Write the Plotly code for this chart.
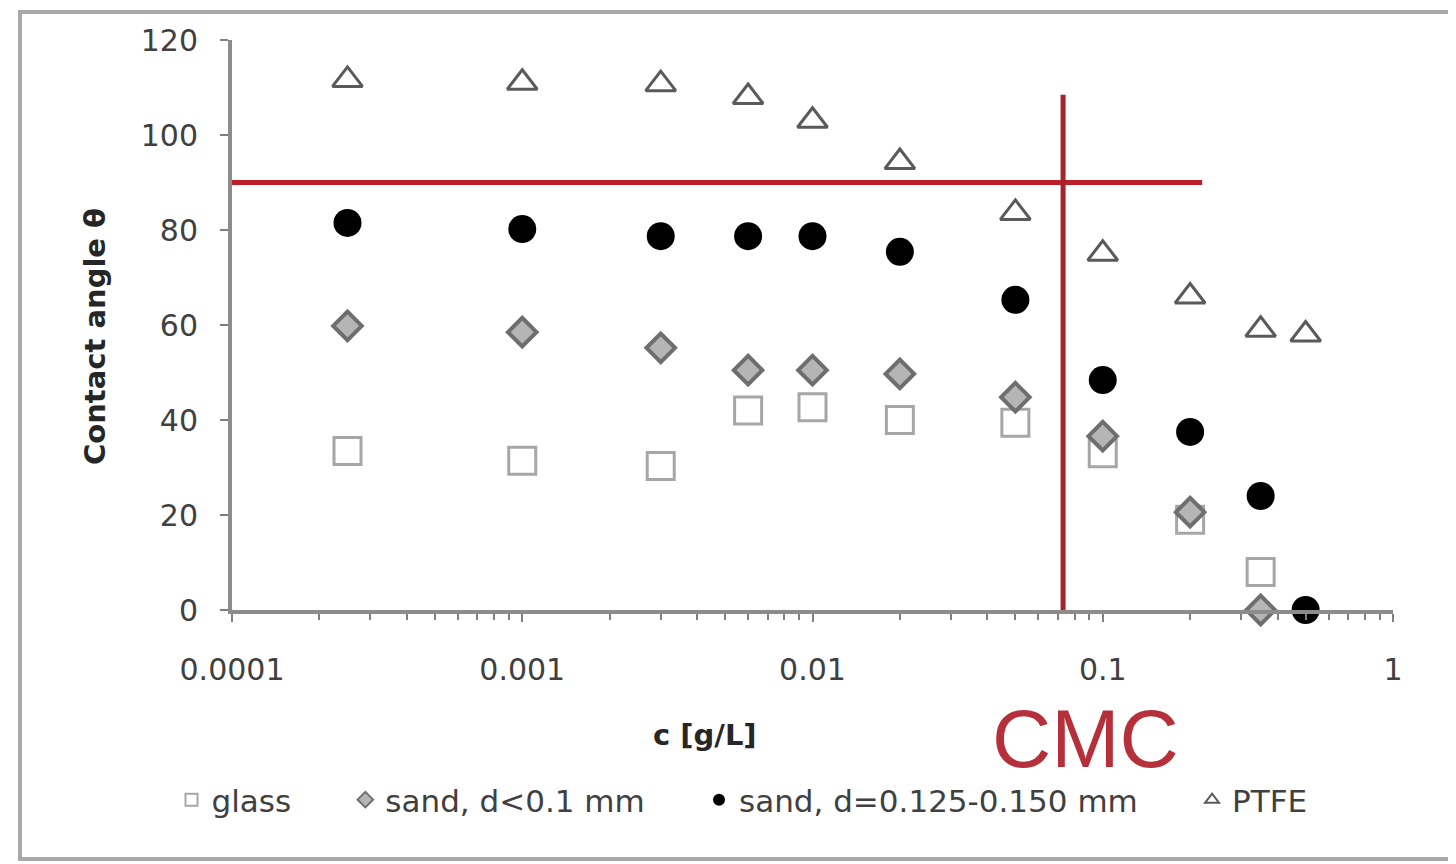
import plotly.graph_objects as go

# concentrations [g/L]
conc = [0.00025, 0.001, 0.003, 0.006, 0.01, 0.02, 0.05, 0.1, 0.2, 0.35, 0.5]

glass = [33.5, 31.4, 30.3, 42.0, 42.7, 40.0, 39.4, 33.0, 19.0, 8.0, None]
sand_fine = [59.8, 58.5, 55.2, 50.5, 50.5, 49.7, 44.8, 36.6, 20.6, 0.0, None]
sand_coarse = [81.5, 80.2, 78.7, 78.7, 78.7, 75.4, 65.3, 48.4, 37.5, 24.0, 0.0]
ptfe = [111.6, 111.0, 110.7, 108.0, 103.0, 94.3, 83.6, 75.0, 66.0, 59.0, 58.0]

series_names = ["glass", "sand, d<0.1 mm", "sand, d=0.125-0.150 mm", "PTFE"]

x_tickvals = [0.0001, 0.001, 0.01, 0.1, 1]
x_ticktext = ["0.0001", "0.001", "0.01", "0.1", "1"]
x_minor_mult = [2, 3, 4, 5, 6, 7, 8, 9]
y_tickvals = [0, 20, 40, 60, 80, 100, 120]

# CMC guide lines
cmc_conc = 0.073
line_angle = 90
hline_x = [0.0001, 0.22]
vline_y = [0, 108.5]

# page has an 8px body margin; figure coordinates = screen - 8
OFF = 8
W, H = 1456 - OFF, 864 - OFF
PL, PR, PT, PB = 232, 1393, 40, 610          # plot area on screen
L, R, T, B = PL - OFF, W - (PR - OFF), PT - OFF, H - (PB - OFF)
PW, PH = W - L - R, H - T - B


def px(sx):
    return (sx - PL) / PW


def py(sy):
    return (PB - sy) / PH


minor_vals = [d * m for d in x_tickvals[:-1] for m in x_minor_mult]

fig = go.Figure()

fig.add_trace(go.Scatter(
    x=hline_x, y=[line_angle, line_angle], mode="lines",
    line=dict(color="#be1e2a", width=5), showlegend=False, hoverinfo="skip"))
fig.add_trace(go.Scatter(
    x=[cmc_conc, cmc_conc], y=vline_y, mode="lines",
    line=dict(color="#a8222c", width=5), showlegend=False, hoverinfo="skip"))

pad = "\u00a0" * 5
fig.add_trace(go.Scatter(
    x=conc, y=glass, mode="markers", name=series_names[0] + pad,
    marker=dict(symbol="square-open", size=27, color="#a6a6a6", line=dict(width=3))))
fig.add_trace(go.Scatter(
    x=conc, y=sand_fine, mode="markers", name=series_names[1] + pad,
    marker=dict(symbol="diamond", size=22, color="#b5b5b5",
                line=dict(width=4, color="#6e6e6e"))))
fig.add_trace(go.Scatter(
    x=conc, y=sand_coarse, mode="markers", name=series_names[2] + pad,
    marker=dict(symbol="circle", size=28, color="#000000")))
fig.add_trace(go.Scatter(
    x=conc, y=ptfe, mode="markers", name=series_names[3],
    marker=dict(symbol="triangle-up-open", size=26, color="#5a5a5a", line=dict(width=3))))

fig.update_traces(cliponaxis=False, selector=dict(mode="markers"))

tick_font = dict(family="DejaVu Sans, sans-serif", size=30, color="#404040")
title_font = dict(family="DejaVu Sans, sans-serif", size=29, color="#262626", weight="bold")

fig.update_xaxes(
    type="log", range=[-4, 0],
    tickvals=x_tickvals, ticktext=x_ticktext,
    ticks="outside", ticklen=8, tickwidth=2, tickcolor="#808080",
    showline=True, linecolor="#8c8c8c", linewidth=4,
    showgrid=False, zeroline=False,
    tickfont=tick_font, ticklabelstandoff=22,
    minor=dict(tickvals=minor_vals, ticks="outside", ticklen=6, tickwidth=2,
               tickcolor="#808080", showgrid=False),
)
fig.update_yaxes(
    range=[0, 120], tickvals=y_tickvals,
    ticks="outside", ticklen=8, tickwidth=2, tickcolor="#808080",
    showline=True, linecolor="#8c8c8c", linewidth=4,
    showgrid=False, zeroline=False,
    tickfont=tick_font, ticklabelstandoff=16,
)

fig.add_annotation(
    text="Contact angle θ", xref="paper", yref="paper",
    x=px(95), y=py(337), textangle=-90,
    showarrow=False, font=title_font, xanchor="center", yanchor="middle")

fig.add_annotation(
    text="c [g/L]", xref="paper", yref="paper",
    x=px(705), y=py(735),
    showarrow=False, font=title_font, xanchor="center", yanchor="middle")

fig.add_annotation(
    text="CMC", xref="paper", yref="paper",
    x=px(1085), y=py(738),
    showarrow=False, font=dict(family="Liberation Sans, sans-serif", size=82, color="#b5303a"),
    xanchor="center", yanchor="middle")

# outer chart frame
fig.add_shape(type="rect", xref="paper", yref="paper",
              x0=px(20), x1=px(1453), y0=py(859), y1=py(12),
              line=dict(color="#a8a8a8", width=4), fillcolor="rgba(0,0,0,0)", layer="below")

fig.update_layout(
    width=W, height=H,
    margin=dict(l=L, r=R, t=T, b=B),
    paper_bgcolor="white", plot_bgcolor="white",
    showlegend=True,
    legend=dict(orientation="h", xref="container", yref="container",
                x=(742 - OFF) / W, xanchor="center",
                y=(H - (800 - OFF)) / H, yanchor="middle",
                font=dict(family="DejaVu Sans, sans-serif", size=31, color="#404040"),
                itemsizing="constant", tracegroupgap=0,
                bgcolor="rgba(0,0,0,0)"),
)

fig.write_html("out.html")
